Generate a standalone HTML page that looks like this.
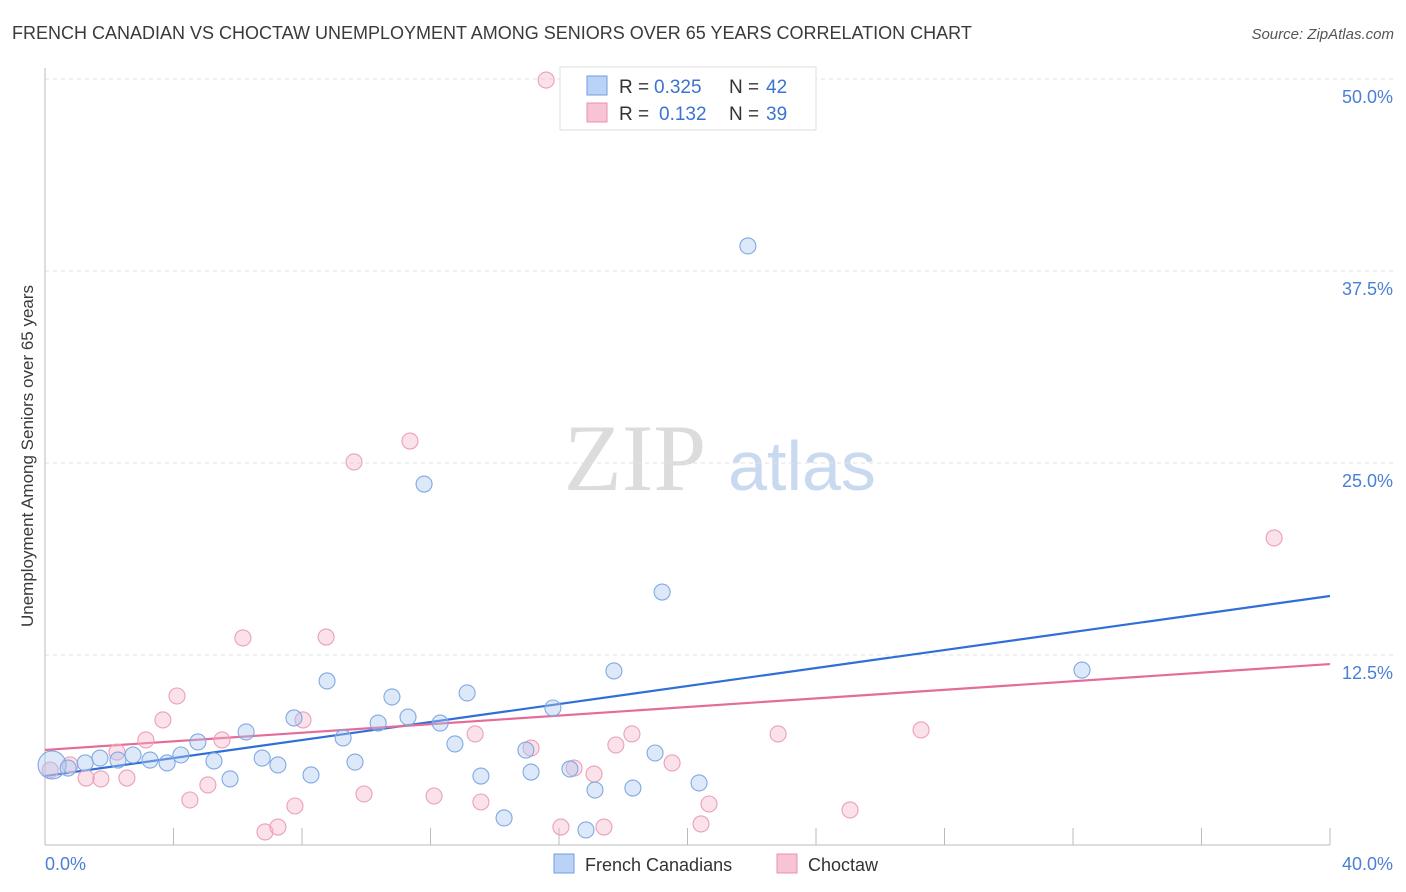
<!DOCTYPE html>
<html><head><meta charset="utf-8"><style>
body{margin:0;background:#fff;font-family:"Liberation Sans",sans-serif;}
svg{display:block}
</style></head><body>
<svg id="chart" width="1406" height="892" xmlns="http://www.w3.org/2000/svg">
<text x="12" y="39" font-size="18" fill="#3a3a3a">FRENCH CANADIAN VS CHOCTAW UNEMPLOYMENT AMONG SENIORS OVER 65 YEARS CORRELATION CHART</text>
<text x="1394" y="39" font-size="15" font-style="italic" fill="#555" text-anchor="end">Source: ZipAtlas.com</text>
<g>
<text x="635" y="490" font-family="Liberation Serif,serif" font-size="95" fill="#dcdcdc" text-anchor="middle">ZIP</text>
<text x="802" y="490" font-size="70" fill="#c9d9f0" text-anchor="middle">atlas</text>
</g>
<g id="grid"></g>
<g id="axes"></g>
<text transform="translate(33,456) rotate(-90)" font-size="17" fill="#3a3a3a" text-anchor="middle">Unemployment Among Seniors over 65 years</text>
<g id="trends"></g>
<g id="points"></g>
<g>
<rect x="560" y="67" width="256" height="63" fill="#fff" stroke="#ddd"/>
<rect x="587" y="76" width="20" height="19" fill="#b9d2f5" stroke="#6e9fe0"/>
<text x="619" y="93" font-size="19" fill="#333">R =</text>
<text x="654" y="93" font-size="19" fill="#3b73d1">0.325</text>
<text x="729" y="93" font-size="19" fill="#333">N =</text>
<text x="766" y="93" font-size="19" fill="#3b73d1">42</text>
<rect x="587" y="103" width="20" height="19" fill="#f8c4d4" stroke="#e891ad"/>
<text x="619" y="120" font-size="19" fill="#333">R =</text>
<text x="659" y="120" font-size="19" fill="#3b73d1">0.132</text>
<text x="729" y="120" font-size="19" fill="#333">N =</text>
<text x="766" y="120" font-size="19" fill="#3b73d1">39</text>
</g>
<g>
<rect x="554" y="854" width="20" height="19" fill="#b9d2f5" stroke="#6e9fe0"/>
<text x="585" y="871" font-size="18" fill="#333">French Canadians</text>
<rect x="777" y="854" width="20" height="19" fill="#f8c4d4" stroke="#e891ad"/>
<text x="808" y="871" font-size="18" fill="#333">Choctaw</text>
</g>
</svg>
<script>
const blueX=[0.22,0.72,1.25,1.71,2.27,2.74,3.27,3.80,4.23,4.76,5.26,5.76,6.26,6.76,7.25,7.75,8.28,8.78,9.28,9.65,10.37,10.80,11.30,11.80,12.30,12.76,13.14,13.57,14.29,14.97,15.13,15.81,16.34,16.84,17.12,17.71,18.30,18.99,19.21,20.36,21.88,32.28];
const blueY=[5.34,5.14,5.47,5.79,5.66,5.99,5.66,5.47,5.99,6.84,5.60,4.43,7.49,5.79,5.34,8.40,4.69,10.81,7.10,5.53,8.07,9.77,8.46,23.63,8.07,6.71,10.03,4.62,1.89,6.31,4.88,9.05,5.08,1.11,3.71,11.46,3.84,6.12,16.60,4.17,39.13,11.52];
const pinkX=[0.16,0.78,1.28,1.74,2.24,2.55,3.14,3.67,4.11,4.51,5.07,5.51,6.16,6.85,7.25,7.78,8.03,8.75,9.62,9.93,11.36,12.11,13.39,13.57,15.13,15.60,16.06,16.47,17.09,17.40,17.77,18.27,19.52,20.42,20.67,22.82,25.06,27.27,38.26];
const pinkY=[5.01,5.34,4.49,4.43,6.18,4.49,6.97,8.27,9.83,3.06,4.04,6.97,13.61,0.98,1.30,2.67,8.27,13.67,25.07,3.45,26.43,3.32,7.36,2.93,6.44,49.93,1.30,5.14,4.75,1.30,6.64,7.36,5.47,1.50,2.80,7.36,2.41,7.62,20.12];
const blueTrend=[4.62,16.34];
const pinkTrend=[6.32,11.91];
const yTicks=[12.5,25,37.5,50];
const yTickLabels=["12.5%","25.0%","37.5%","50.0%"];
const xTickVals=[0,4,8,12,16,20,24,28,32,36,40];
const NS="http://www.w3.org/2000/svg";
const sx=v=>45+v/40*1285;
const sy=v=>847-v/12.5*192;
function mk(t,a,p){const e=document.createElementNS(NS,t);for(const k in a)e.setAttribute(k,a[k]);p.appendChild(e);return e;}
const grid=document.getElementById('grid'),axes=document.getElementById('axes');
yTicks.forEach((v,i)=>{
 const l=mk('line',{x1:45,x2:1393,y1:sy(v),y2:sy(v),stroke:'#e2e2e2','stroke-dasharray':'4,4'},grid);
 
 
 const t=mk('text',{x:1393,y:sy(v)+24,'font-size':18,fill:'#4a7fd4','text-anchor':'end'},axes);
 t.textContent=yTickLabels[i];
 
 
});
mk('line',{x1:45,x2:45,y1:68,y2:845,stroke:'#bbb'},axes);
mk('line',{x1:45,x2:1330,y1:845,y2:845,stroke:'#bbb'},axes);
xTickVals.forEach(v=>{
 const l=mk('line',{x1:sx(v),x2:sx(v),y1:828,y2:845,stroke:'#bbb'},axes);
 
 
});
const x0=mk('text',{x:45,y:870,'font-size':18,fill:'#4a7fd4'},axes);x0.textContent='0.0%';


const x1=mk('text',{x:1393,y:870,'font-size':18,fill:'#4a7fd4','text-anchor':'end'},axes);x1.textContent='40.0%';


const pts=document.getElementById('points');
function series(X,Y,fill,stroke,name){
 X.forEach((x,i)=>{
  const c=mk('circle',{cx:sx(x),cy:sy(Y[i]),r:(name==='french-canadian-point'&&i===0)?14:8,fill:fill,'fill-opacity':0.4,stroke:stroke,'stroke-width':1.1},pts);
  
  
 });
}
series(pinkX,pinkY,'#f4b5c9','#eaa0b8','choctaw-point');
series(blueX,blueY,'#a9c8f0','#7fa9e3','french-canadian-point');
const tr=document.getElementById('trends');
const bl=mk('line',{x1:sx(0),y1:sy(blueTrend[0]),x2:sx(40),y2:sy(blueTrend[1]),stroke:'#2f6fd6','stroke-width':2.2},tr);


const pl=mk('line',{x1:sx(0),y1:sy(pinkTrend[0]),x2:sx(40),y2:sy(pinkTrend[1]),stroke:'#e56c98','stroke-width':2.2},tr);


</script>
</body></html>
